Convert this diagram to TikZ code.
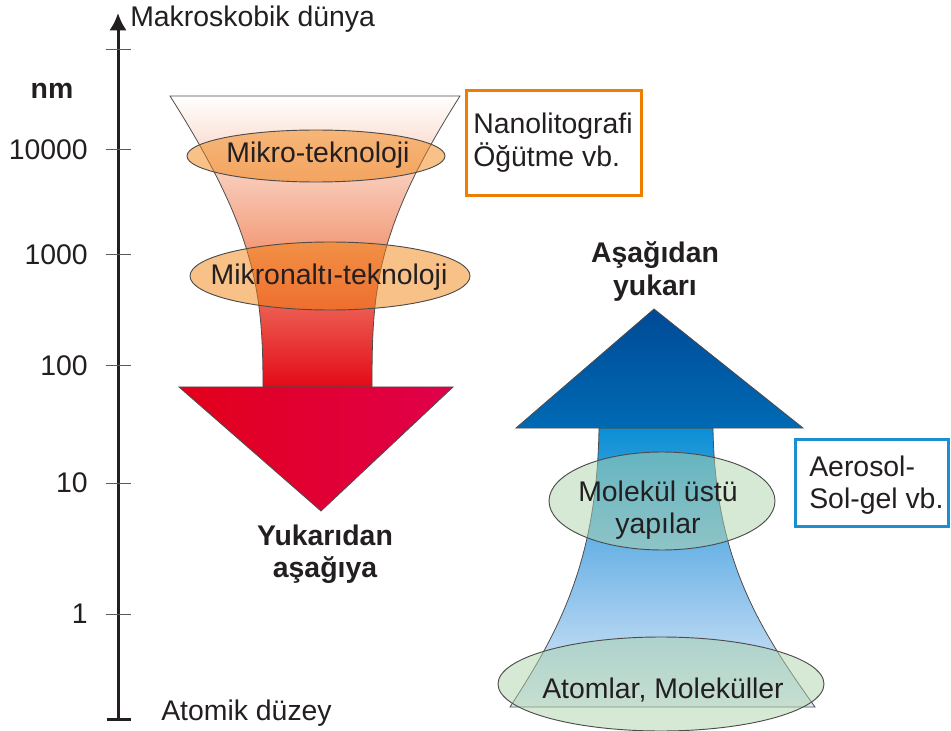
\documentclass[tikz,border=0pt]{standalone}
\usepackage{fontspec}
\setmainfont{Liberation Sans}
\usetikzlibrary{arrows.meta,shapes.geometric}

\definecolor{inkgray}{HTML}{231F20}
\definecolor{edgegray}{HTML}{4D4D4D}
\definecolor{tickgray}{HTML}{5A5A5A}
\definecolor{funnelred}{HTML}{E30A17}
\definecolor{midred}{HTML}{F3A07F}
\definecolor{tipred}{HTML}{E2001A}
\definecolor{tippink}{HTML}{E0004B}
\definecolor{ovalorange}{HTML}{F1830F}
\definecolor{ovalgreen}{HTML}{AED3A9}
\definecolor{shaftblue}{HTML}{0A8FD5}
\definecolor{midblue}{HTML}{7DBBE9}
\definecolor{paleblue}{HTML}{E0EBF8}
\definecolor{darkblue}{HTML}{004A96}
\definecolor{lowblue}{HTML}{006AB4}
\definecolor{frameorange}{HTML}{EF7D00}
\definecolor{frameblue}{HTML}{1B8FD2}

\tikzset{
  lbl/.style={font=\fontsize{21.3}{24.5}\selectfont, text=inkgray, inner sep=0pt},
  boldlbl/.style={lbl, font=\fontsize{21.3}{24.5}\selectfont\bfseries, align=center},
  tickmark/.style={draw=tickgray, line width=0.75pt},
  oval/.style={ellipse, draw=edgegray, line width=0.7pt, fill opacity=0.5, inner sep=0pt},
  frame/.style={rectangle, line width=2.25pt, inner sep=0pt, fill=white},
  funnel/.style={draw=edgegray, line width=0.6pt}
}

\begin{document}
\begin{tikzpicture}[x=0.75pt,y=-0.75pt]
  \useasboundingbox (0,0) rectangle (951,731);

  % size axis
  \coordinate (axbot) at (118,719);
  \coordinate (axtop) at (118,13);
  \draw[line width=2.25pt, inkgray, -{Latex[length=13pt,width=13pt]}] (axbot) -- (axtop);
  \draw[line width=2.25pt, inkgray] (107,719) -- (131,719);
  \draw[tickmark] (106,50) -- (131,50);
  \draw[tickmark] (106,150) -- (131,150);
  \draw[tickmark] (106,255) -- (131,255);
  \draw[tickmark] (106,366) -- (131,366);
  \draw[tickmark] (106,483) -- (131,483);
  \draw[tickmark] (106,614) -- (131,614);

  \node[lbl, anchor=base west] (macro) at (130,27) {Makroskobik dünya};
  \node[boldlbl] (unit) at (52,91) {nm};
  \node[lbl, anchor=east] (n10000) at (88,150) {10000};
  \node[lbl, anchor=east] (n1000) at (88,255) {1000};
  \node[lbl, anchor=east] (n100) at (88,366) {100};
  \node[lbl, anchor=east] (n10) at (88,483) {10};
  \node[lbl, anchor=east] (n1) at (88,614) {1};
  \node[lbl, anchor=base west] (atomic) at (161,720) {Atomik düzey};

  % top-down arrow
  \path[funnel, top color=white, bottom color=funnelred, middle color=midred]
    (170,96) -- (460,96) .. controls (375,230) and (372,290) .. (372,387)
    -- (263,387) .. controls (263,290) and (255,230) .. (170,96) -- cycle;
  \path[funnel, left color=tipred, right color=tippink]
    (179,387) -- (453,387) -- (321,511) -- cycle;

  \node[oval, fill=ovalorange, minimum width=193.5pt, minimum height=39pt] (micro) at (316,156) {};
  \node[lbl] (microtxt) at (318,155.6) {Mikro-teknoloji};
  \node[oval, fill=ovalorange, minimum width=210pt, minimum height=51pt] (submicro) at (330,276) {};
  \node[lbl] (submicrotxt) at (329,277.6) {Mikronaltı-teknoloji};

  \node[boldlbl] (topdown) at (325,554.3) {Yukarıdan\\aşağıya};

  \node[frame, draw=frameorange, minimum width=131.25pt, minimum height=78.75pt] (litobox) at (554,143) {};
  \node[lbl, anchor=west, align=left] (litotxt) at (473,142.8) {Nanolitografi\\Öğütme vb.};

  % bottom-up arrow
  \path[funnel, top color=shaftblue, bottom color=paleblue, middle color=midblue]
    (599,428) -- (713,428) .. controls (715,560) and (760,630) .. (815,707)
    -- (510,707) .. controls (560,630) and (597,560) .. (599,428) -- cycle;
  \path[funnel, top color=darkblue, bottom color=lowblue]
    (516,428) -- (654,309) -- (803,428) -- cycle;

  \node[oval, fill=ovalgreen, minimum width=169.5pt, minimum height=73.5pt] (supra) at (662,501) {};
  \node[lbl, align=center] (supratxt) at (658,510) {Molekül üstü\\yapılar};
  \node[oval, fill=ovalgreen, minimum width=244.5pt, minimum height=70.5pt] (atoms) at (661,684) {};
  \node[lbl] (atomstxt) at (663,689.6) {Atomlar, Moleküller};

  \node[boldlbl] (bottomup) at (655,271.8) {Aşağıdan\\yukarı};

  \node[frame, draw=frameblue, minimum width=114.75pt, minimum height=65.25pt] (solbox) at (872,483) {};
  \node[lbl, anchor=west, align=left] (soltxt) at (809,485) {Aerosol-\\Sol-gel vb.};
\end{tikzpicture}
\end{document}
